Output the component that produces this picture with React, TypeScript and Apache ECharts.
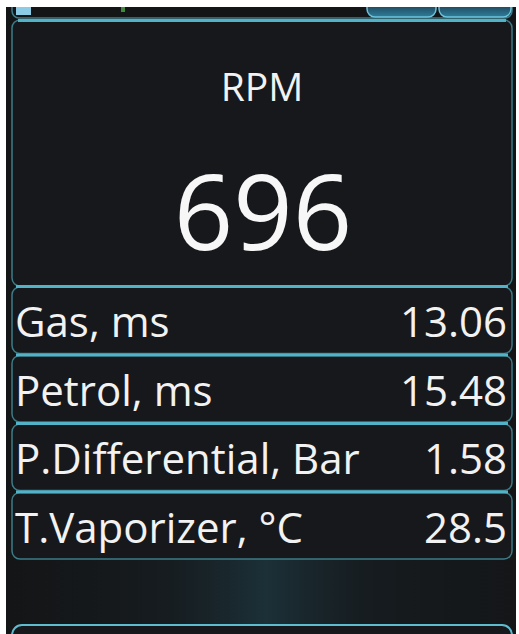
import React, { useEffect, useRef } from "react";
import * as echarts from "echarts";

const rpmLabel = "RPM";
const rpmValue = 696;
const rowLabels = ["Gas, ms", "Petrol, ms", "P.Differential, Bar", "T.Vaporizer, °C"];
const rowValues = [13.06, 15.48, 1.58, 28.5];

const FONT = "'Open Sans', 'Noto Sans', sans-serif";
const BRIGHT = "#52b2c7";
const SIDE = "#3d7c89";
const PANEL = "#17181b";
const BG = "#141517";

function buildElements() {
  const els: any[] = [];
  els.push({ type: "rect", shape: { x: 6, y: 7, width: 510, height: 627 }, style: { fill: BG }, z: 0 });
  // bottom glow
  els.push({
    type: "rect",
    shape: { x: 6, y: 556, width: 510, height: 78 },
    style: {
      fill: new echarts.graphic.LinearGradient(0, 0, 1, 0, [
        { offset: 0, color: "rgba(30,60,70,0.0)" },
        { offset: 0.3, color: "rgba(35,75,90,0.12)" },
        { offset: 0.51, color: "rgba(45,105,125,0.32)" },
        { offset: 0.72, color: "rgba(35,75,90,0.12)" },
        { offset: 1, color: "rgba(30,60,70,0.03)" },
      ]),
    },
    z: 1,
  });
  // top bar panel
  els.push({
    type: "rect",
    shape: { x: 12, y: -6, width: 500, height: 24, r: [0, 0, 7, 7] },
    style: { fill: BG, stroke: SIDE, lineWidth: 1.5 },
    z: 2,
  });
  els.push({ type: "rect", shape: { x: 16, y: 7, width: 15, height: 8 }, style: { fill: "#8ccbe6" }, z: 3 });
  els.push({ type: "rect", shape: { x: 121, y: 7, width: 4, height: 5 }, style: { fill: "#3f8a3f" }, z: 3 });
  const tabs = [
    { x: 367, w: 69 },
    { x: 439, w: 72 },
  ];
  tabs.forEach((t) => {
    els.push({
      type: "rect",
      shape: { x: t.x, y: 3, width: t.w, height: 14, r: [0, 0, 8, 8] },
      style: {
        fill: new echarts.graphic.LinearGradient(0, 0, 0, 1, [
          { offset: 0, color: "#1a3b4c" },
          { offset: 1, color: "#2f7e9e" },
        ]),
        stroke: "#6cc4dc",
        lineWidth: 1.5,
      },
      z: 3,
    });
  });
  // main panel
  els.push({
    type: "rect",
    shape: { x: 12, y: 20, width: 500, height: 266, r: 8 },
    style: { fill: PANEL, stroke: SIDE, lineWidth: 1.5 },
    z: 4,
  });
  els.push({ type: "line", shape: { x1: 18, y1: 20.5, x2: 506, y2: 20.5 }, style: { stroke: BRIGHT, lineWidth: 3 }, z: 5 });
  els.push({
    type: "text",
    style: { text: rpmLabel, x: 262, y: 85, align: "center", verticalAlign: "middle", fontSize: 39, fontFamily: FONT, fill: "#f2f2f2" },
    z: 6,
  });
  els.push({
    type: "text",
    style: { text: String(rpmValue), x: 263, y: 209, align: "center", verticalAlign: "middle", fontSize: 104, fontFamily: FONT, fill: "#f7f7f7" },
    z: 6,
  });
  // rows
  const tops = [286, 354.5, 423, 491.5];
  const h = 66.5;
  rowLabels.forEach((lab, i) => {
    const y0 = tops[i];
    els.push({
      type: "rect",
      shape: { x: 12, y: y0 + 1, width: 500, height: h, r: 8 },
      style: { fill: PANEL, stroke: SIDE, lineWidth: 1.5 },
      z: 4,
    });
    els.push({ type: "line", shape: { x1: 16, y1: y0 + 0.5, x2: 508, y2: y0 + 0.5 }, style: { stroke: BRIGHT, lineWidth: 3 }, z: 5 });
    const cy = y0 + 34.5;
    els.push({
      type: "text",
      style: { text: lab, x: 15, y: cy, align: "left", verticalAlign: "middle", fontSize: 42, fontFamily: FONT, fill: "#f2f2f2" },
      z: 6,
    });
    els.push({
      type: "text",
      style: { text: String(rowValues[i]), x: 507, y: cy, align: "right", verticalAlign: "middle", fontSize: 42, fontFamily: FONT, fill: "#f2f2f2" },
      z: 6,
    });
  });
  // bottom panel
  els.push({
    type: "rect",
    shape: { x: 12, y: 625, width: 500, height: 40, r: 10 },
    style: { fill: PANEL, stroke: "#5fbcd0", lineWidth: 2 },
    z: 4,
  });
  els.push({ type: "rect", shape: { x: 0, y: 0, width: 519, height: 7 }, style: { fill: "#ffffff" }, z: 20 });
  return els;
}

export default function App() {
  const ref = useRef<HTMLDivElement>(null);
  useEffect(() => {
    if (!ref.current) return;
    const chart = echarts.init(ref.current, null, { renderer: "svg" });
    chart.setOption({
      animation: false,
      backgroundColor: "#ffffff",
      graphic: { elements: buildElements() },
    });
    return () => chart.dispose();
  }, []);
  return (
    <div
      ref={ref}
      style={{ position: "fixed", left: 0, top: 0, width: 519, height: 634, background: "#ffffff" }}
    />
  );
}
